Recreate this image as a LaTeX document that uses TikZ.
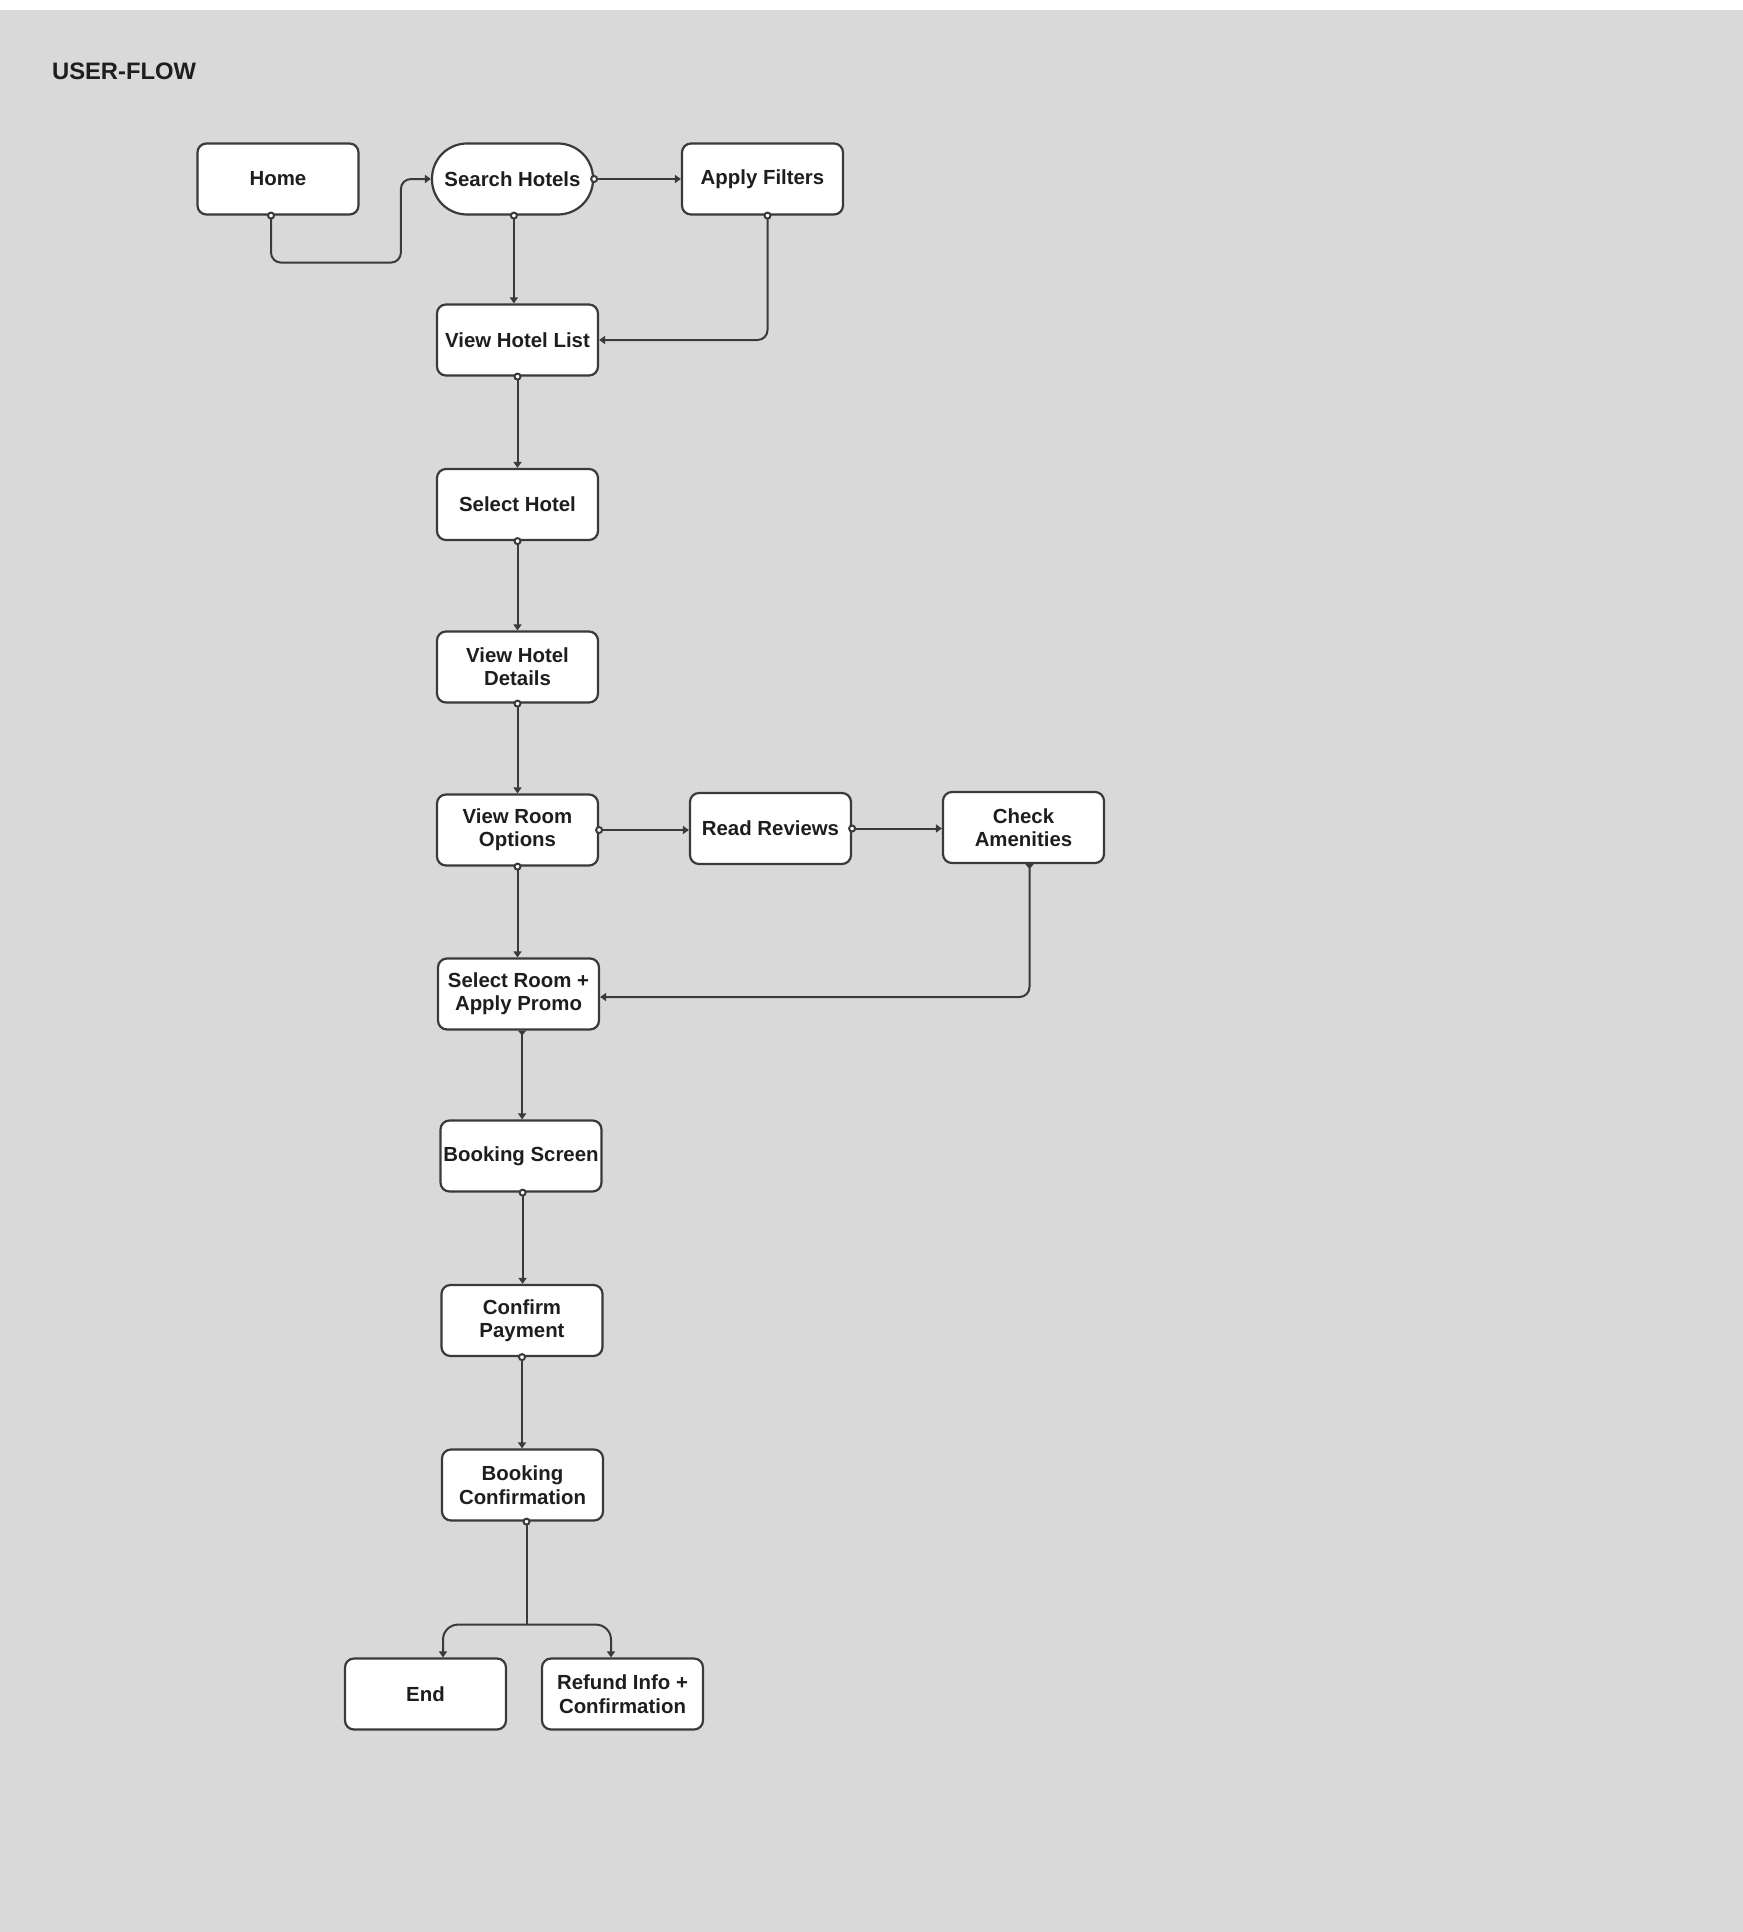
\documentclass[tikz,border=0pt]{standalone}
\usepackage{fontspec}
\setmainfont{Liberation Sans}
\usetikzlibrary{arrows.meta}
\definecolor{canvas}{HTML}{D9D9D9}
\definecolor{ink}{HTML}{1E1E1E}
\definecolor{wire}{HTML}{3A3A3A}

\begin{document}
\begin{tikzpicture}[x=0.5pt,y=-0.5pt,
    box/.style={draw=wire,line width=1.1pt,fill=white,rounded corners=4.5pt,
      minimum width=80.5pt,minimum height=35.5pt,inner sep=1pt,align=center,
      text=ink,font=\bfseries\fontsize{10.2}{11.7}\selectfont},
    pill/.style={box,rounded corners=17.5pt},
    flow/.style={draw=wire,line width=1pt,rounded corners=5pt,shorten <=-2pt,
      {Circle[fill=white,length=4pt,line width=1pt]}-{Triangle[length=3pt,width=4pt]}},
    flowdown/.style={draw=wire,line width=1pt,rounded corners=5pt,
      {Triangle[reversed,length=2.5pt,width=4pt]}-{Triangle[length=3pt,width=4pt]}},
    stem/.style={draw=wire,line width=1pt,shorten <=-2pt,
      {Circle[fill=white,length=4pt,line width=1pt]}-},
    branch/.style={draw=wire,line width=1pt,rounded corners=7.5pt,-{Triangle[length=3pt,width=4pt]}}]

    % canvas
    \useasboundingbox (0,0) rectangle (1742,1932);
    \fill[white] (-10,-10) rectangle (1760,1950);
    \fill[canvas] (-10,10) rectangle (1760,1950);

    \node[anchor=west,text=ink,font=\bfseries\fontsize{11.9}{13}\selectfont] (title) at (45,71) {USER-FLOW};

    % steps
    \node[box] (home) at (278,179) {Home};
    \node[pill] (search) at (512.5,179) {Search Hotels};
    \node[box] (filters) at (762.5,179) {Apply Filters};
    \node[box] (list) at (517.5,340) {View Hotel List};
    \node[box] (hotel) at (517.5,504.5) {Select Hotel};
    \node[box] (details) at (517.5,667) {View Hotel\\Details};
    \node[box] (rooms) at (517.5,830) {View Room\\Options};
    \node[box] (reviews) at (770.5,828.5) {Read Reviews};
    \node[box] (amenities) at (1023.5,827.5) {Check\\Amenities};
    \node[box] (promo) at (518.5,994) {Select Room +\\Apply Promo};
    \node[box] (booking) at (521,1156) {Booking Screen};
    \node[box] (payment) at (522,1320.5) {Confirm\\Payment};
    \node[box] (confirm) at (522.5,1485) {Booking\\Confirmation};
    \node[box] (finish) at (425.5,1694) {End};
    \node[box] (refund) at (622.5,1694) {Refund Info +\\Confirmation};

    % links
    \draw[flow] ([xshift=-3.5pt]home.south) -- ++(0,47) -| ([xshift=-15pt]search.west) -- (search.west);
    \draw[flow] (search.east) -- (filters.west);
    \draw[flow] ([xshift=0.7pt]search.south) -- ([xshift=0.7pt]search.south |- list.north);
    \draw[flow] ([xshift=2.5pt]filters.south) |- (list.east);
    \draw[flow] (list.south) -- (hotel.north);
    \draw[flow] (hotel.south) -- (details.north);
    \draw[flow] (details.south) -- (rooms.north);
    \draw[flow] (rooms.east) -- (rooms.east -| reviews.west);
    \draw[flow] (reviews.east) -- (reviews.east -| amenities.west);
    \draw[flow] (rooms.south) -- (rooms.south |- promo.north);
    \draw[flowdown] ([xshift=3pt]amenities.south) |- ([yshift=-1.5pt]promo.east);
    \draw[flowdown] ([xshift=1.8pt]promo.south) -- ([xshift=1.8pt]promo.south |- booking.north);
    \draw[flow] ([xshift=0.8pt]booking.south) -- ([xshift=0.8pt]booking.south |- payment.north);
    \draw[flow] (payment.south) -- (payment.south |- confirm.north);
    \draw[stem] ([xshift=2pt]confirm.south) -- ++(0,103) coordinate (split);
    \draw[branch] (split) -| ([xshift=8.75pt]finish.north);
    \draw[branch] (split) -| ([xshift=-5.75pt]refund.north);
\end{tikzpicture}
\end{document}
